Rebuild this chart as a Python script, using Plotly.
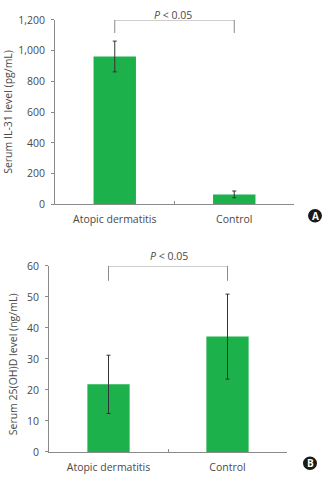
import plotly.graph_objects as go

categories = ["Atopic dermatitis", "Control"]
il31_values = [962, 65]
il31_errors = [100, 22]
vitd_values = [21.8, 37.2]
vitd_errors = [9.4, 13.7]
il31_ticks = [0, 200, 400, 600, 800, 1000, 1200]
vitd_ticks = [0, 10, 20, 30, 40, 50, 60]

W, H = 326, 480
GREEN = "#1db14b"
AX = "#8a8a8a"
TXT = "#4a4a4a"
FONT = "Open Sans"

def px(x):
    return x / W

def py(y):
    return 1 - y / H

fig = go.Figure()

# Panel A
fig.add_trace(go.Bar(x=categories, y=il31_values, marker=dict(color=GREEN, line=dict(width=0)),
                     width=0.355, xaxis="x", yaxis="y",
                     error_y=dict(type="data", array=il31_errors, color="#333333", thickness=1, width=2)))
fig.add_trace(go.Scatter(x=[categories[0], categories[0], categories[1], categories[1]],
                         y=[1115, 1200, 1200, 1115], mode="lines", line=dict(color=AX, width=1),
                         cliponaxis=False, xaxis="x", yaxis="y", hoverinfo="skip"))
# Panel B
fig.add_trace(go.Bar(x=categories, y=vitd_values, marker=dict(color=GREEN, line=dict(width=0)),
                     width=0.355, xaxis="x2", yaxis="y2",
                     error_y=dict(type="data", array=vitd_errors, color="#333333", thickness=1, width=2)))
fig.add_trace(go.Scatter(x=[categories[0], categories[0], categories[1], categories[1]],
                         y=[55.2, 60, 60, 55.2], mode="lines", line=dict(color=AX, width=1),
                         cliponaxis=False, xaxis="x2", yaxis="y2", hoverinfo="skip"))

xcommon = dict(showline=True, linecolor=AX, linewidth=1, tickson="boundaries", ticks="inside",
               ticklen=3, tickcolor=AX, showgrid=False, tickfont=dict(family=FONT, size=10.5, color=TXT),
               ticklabelstandoff=5, fixedrange=True)
ycommon = dict(showline=True, linecolor=AX, linewidth=1, ticks="outside", ticklen=3, tickcolor=AX,
               showgrid=False, zeroline=False, tickfont=dict(family=FONT, size=10.5, color=TXT),
               ticklabelstandoff=4, fixedrange=True)

def ann(text, x, y, size=10.5, color=TXT, angle=0):
    return dict(text=text, x=px(x), y=py(y), xref="paper", yref="paper", xanchor="center",
                yanchor="middle", textangle=angle, showarrow=False,
                font=dict(family=FONT, size=size, color=color))

fig.update_layout(
    width=W, height=H, margin=dict(l=0, r=0, t=0, b=0),
    paper_bgcolor="white", plot_bgcolor="white", showlegend=False,
    xaxis=dict(domain=[px(55), px(294)], anchor="y", **xcommon),
    yaxis=dict(domain=[py(203.3), py(13.3)], anchor="x", range=[0, 1200],
               tickvals=il31_ticks, tickformat=",d", **ycommon),
    xaxis2=dict(domain=[px(49), px(287)], anchor="y2", **xcommon),
    yaxis2=dict(domain=[py(458.3), py(266.7)], anchor="x2", range=[0, 60],
                tickvals=vitd_ticks, **ycommon),
    annotations=[
        dict(text="<i>P</i> < 0.05", x=px(173), y=1, xref="paper", yref="paper", xanchor="center",
             yanchor="top", yshift=1, showarrow=False, font=dict(family=FONT, size=10.5, color=TXT)),
        ann("<i>P</i> < 0.05", 169, 256),
        ann("Serum IL-31 level (pg/mL)", 8, 108, angle=-90),
        ann("Serum 25(OH)D level (ng/mL)", 13, 368, angle=-90),
        ann("<b>A</b>", 315, 215, size=10, color="white"),
        ann("<b>B</b>", 310, 470, size=10, color="white"),
    ],
    shapes=[
        dict(type="circle", xref="paper", yref="paper", x0=px(308), x1=px(322), y0=py(222), y1=py(208),
             fillcolor="#1a1a1a", line=dict(width=0), layer="below"),
        dict(type="circle", xref="paper", yref="paper", x0=px(303), x1=px(317), y0=py(477), y1=py(463),
             fillcolor="#1a1a1a", line=dict(width=0), layer="below"),
    ],
)

fig.write_html("out.html")
